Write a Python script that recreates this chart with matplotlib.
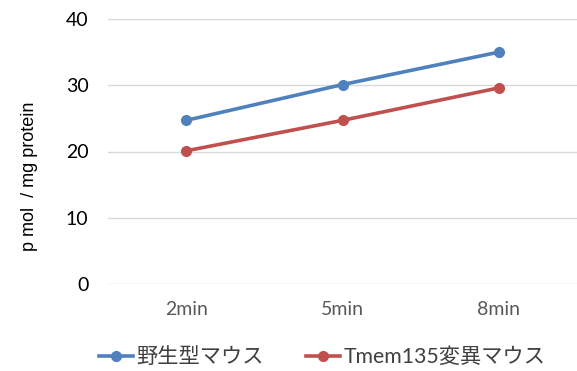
import matplotlib
matplotlib.use("Agg")
import matplotlib.pyplot as plt

categories = ["2min", "5min", "8min"]
wild = [24.7, 30.1, 35.0]
mutant = [20.1, 24.7, 29.6]
series_names = ["野生型マウス", "Tmem135変異マウス"]
yticks = [0, 10, 20, 30, 40]

plt.rcParams['font.family'] = ['Lato', 'Noto Sans CJK JP', 'DejaVu Sans']

fig = plt.figure(figsize=(5.77, 3.71), dpi=100)
ax = fig.add_axes([108/577, 1-284/371, 1-108/577, (284-19)/371])

x = list(range(len(categories)))
ax.plot(x, wild, color="#4F81BD", lw=2.6, marker="o", ms=7, label=series_names[0])
ax.plot(x, mutant, color="#C0504D", lw=2.6, marker="o", ms=7, label=series_names[1])

ax.set_xlim(-0.5, 2.5)
ax.set_ylim(0, 40)
ax.set_yticks(yticks)
ax.set_xticks(x)
ax.set_xticklabels(categories, color="#595959", fontsize=14)
ax.tick_params(axis='y', labelsize=14, colors="black", length=0, pad=14)
ax.tick_params(axis='x', length=0, pad=12)
ax.grid(axis='y', color="#D9D9D9", lw=1)
ax.set_axisbelow(True)
for s in ax.spines.values():
    s.set_visible(False)

fig.text(30/577, 1-176/371, "p mol  / mg protein", rotation=90, ha="center", va="center",
         fontsize=13, color="black", family=["Liberation Sans", "DejaVu Sans"])

fig.legend(loc="center", bbox_to_anchor=(322/577, 1-357/371), ncol=2, frameon=False,
           fontsize=15.3, handlelength=1.6, handletextpad=0.15, columnspacing=2.0,
           labelcolor="#404040")

fig.savefig("out.png", dpi=100)
